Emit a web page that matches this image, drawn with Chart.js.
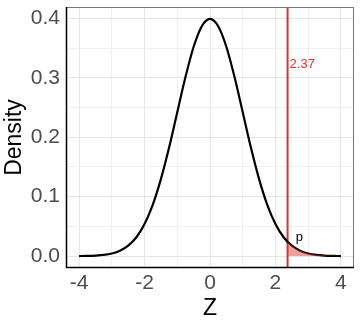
<!DOCTYPE html>
<html>
<head>
<meta charset="utf-8">
<script src="https://cdn.jsdelivr.net/npm/chart.js@4.4.0/dist/chart.umd.min.js"></script>
<style>
  html, body { margin: 0; padding: 0; background: #fff; }
  canvas { display: block; }
</style>
</head>
<body>
<canvas id="densityChart" width="360" height="324"></canvas>
<script>
// standard normal density
var zValues = [-4, -3.75, -3.5, -3.25, -3, -2.75, -2.5, -2.25, -2, -1.75, -1.5, -1.25, -1, -0.75, -0.5, -0.25,
               0, 0.25, 0.5, 0.75, 1, 1.25, 1.5, 1.75, 2, 2.25, 2.5, 2.75, 3, 3.25, 3.5, 3.75, 4];
var densityValues = [0.0001, 0.0004, 0.0009, 0.0020, 0.0044, 0.0091, 0.0175, 0.0317, 0.0540, 0.0863, 0.1295, 0.1826, 0.2420, 0.3011, 0.3521, 0.3867,
                     0.3989, 0.3867, 0.3521, 0.3011, 0.2420, 0.1826, 0.1295, 0.0863, 0.0540, 0.0317, 0.0175, 0.0091, 0.0044, 0.0020, 0.0009, 0.0004, 0.0001];

// upper tail beyond the cutoff
var cutoff = 2.37;
var tailZ = [2.37, 2.5, 2.75, 3, 3.25, 3.5, 3.75, 4];
var tailDensity = [0.0241, 0.0175, 0.0091, 0.0044, 0.0020, 0.0009, 0.0004, 0.0001];

var cutoffLabel = '2.37';
var cutoffLabelY = 0.322;
var pLabel = 'p';
var pLabelPos = [2.62, 0.032];

var xTicks = [-4, -2, 0, 2, 4];
var yTicks = ['0.0', '0.1', '0.2', '0.3', '0.4'];

var red = '#cc3a33';

function toPoints(xs, ys) {
    return xs.map(function (x, i) { return { x: x, y: ys[i] }; });
}

var panelBorder = {
    id: 'panelBorder',
    afterDraw: function (chart) {
        var a = chart.chartArea, c = chart.ctx;
        var xs = chart.scales.x, ys = chart.scales.y;
        c.save();
        // annotations
        c.fillStyle = red;
        c.font = '13px "Liberation Sans", Arial, sans-serif';
        c.textAlign = 'left';
        c.textBaseline = 'middle';
        c.fillText(cutoffLabel, xs.getPixelForValue(cutoff) + 2, ys.getPixelForValue(cutoffLabelY));
        c.fillStyle = '#000';
        c.fillText(pLabel, xs.getPixelForValue(pLabelPos[0]), ys.getPixelForValue(pLabelPos[1]));
        // frame
        c.strokeStyle = '#777';
        c.lineWidth = 1;
        c.strokeRect(a.left + 0.5, a.top + 0.5, a.right - a.left - 1, a.bottom - a.top - 1);
        c.strokeStyle = '#000';
        c.lineWidth = 1.5;
        c.beginPath();
        c.moveTo(a.left + 0.5, a.top);
        c.lineTo(a.left + 0.5, a.bottom - 0.5);
        c.lineTo(a.right, a.bottom - 0.5);
        c.stroke();
        c.restore();
    }
};

var ctx = document.getElementById('densityChart').getContext('2d');

var chart = new Chart(ctx, {
    type: 'line',
    data: {
        datasets: [{
            // shaded tail area
            data: toPoints(tailZ, tailDensity),
            borderWidth: 0,
            pointRadius: 0,
            fill: 'origin',
            backgroundColor: 'rgba(214, 70, 64, 0.5)',
            cubicInterpolationMode: 'monotone'
        }, {
            data: toPoints(zValues, densityValues),
            borderColor: '#000',
            borderWidth: 2.2,
            pointRadius: 0,
            fill: false,
            cubicInterpolationMode: 'monotone'
        }, {
            // cutoff line
            data: [{ x: cutoff, y: -0.03 }, { x: cutoff, y: 0.43 }],
            borderColor: red,
            borderWidth: 2,
            pointRadius: 0,
            fill: false
        }]
    },
    options: {
        responsive: false,
        animation: false,
        layout: { padding: { top: 7, right: 6, left: 0, bottom: 0 } },
        plugins: {
            legend: { display: false },
            tooltip: { enabled: false }
        },
        scales: {
            x: {
                type: 'linear',
                min: -4.4,
                max: 4.4,
                afterFit: function (s) { s.height = 56; s.paddingLeft = 0; s.paddingRight = 0; },
                ticks: {
                    stepSize: 1,
                    includeBounds: false,
                    maxRotation: 0,
                    autoSkip: false,
                    padding: 3,
                    color: '#4d4d4d',
                    font: { size: 21, family: '"Liberation Sans", Arial, sans-serif' },
                    callback: function (v) {
                        return xTicks.indexOf(Math.round(v)) >= 0 && Math.abs(v - Math.round(v)) < 1e-6 ? String(Math.round(v)) : '';
                    }
                },
                grid: {
                    drawTicks: false,
                    color: function (c) { return Math.round(c.tick.value) % 2 === 0 ? '#e6e6e6' : '#f0f0f0'; },
                    lineWidth: 1
                },
                border: { display: false },
                title: {
                    display: true,
                    text: 'Z',
                    color: '#000',
                    padding: { top: 0, bottom: 2 },
                    font: { size: 23, family: '"Liberation Sans", Arial, sans-serif' }
                }
            },
            y: {
                min: -0.02,
                max: 0.419,
                afterFit: function (s) { s.width = 66; s.paddingTop = 0; s.paddingBottom = 0; },
                ticks: {
                    stepSize: 0.05,
                    includeBounds: false,
                    padding: 6,
                    color: '#4d4d4d',
                    font: { size: 21, family: '"Liberation Sans", Arial, sans-serif' },
                    callback: function (v) {
                        var k = Math.round(v * 100);
                        return k % 10 === 0 ? yTicks[k / 10] : '';
                    }
                },
                grid: {
                    drawTicks: false,
                    color: function (c) { return Math.round(c.tick.value * 100) % 10 === 0 ? '#e6e6e6' : '#f0f0f0'; },
                    lineWidth: 1
                },
                border: { display: false },
                title: {
                    display: true,
                    text: 'Density',
                    color: '#000',
                    padding: { top: 1, bottom: 0 },
                    font: { size: 23, family: '"Liberation Sans", Arial, sans-serif' }
                }
            }
        }
    },
    plugins: [panelBorder]
});
</script>
</body>
</html>
